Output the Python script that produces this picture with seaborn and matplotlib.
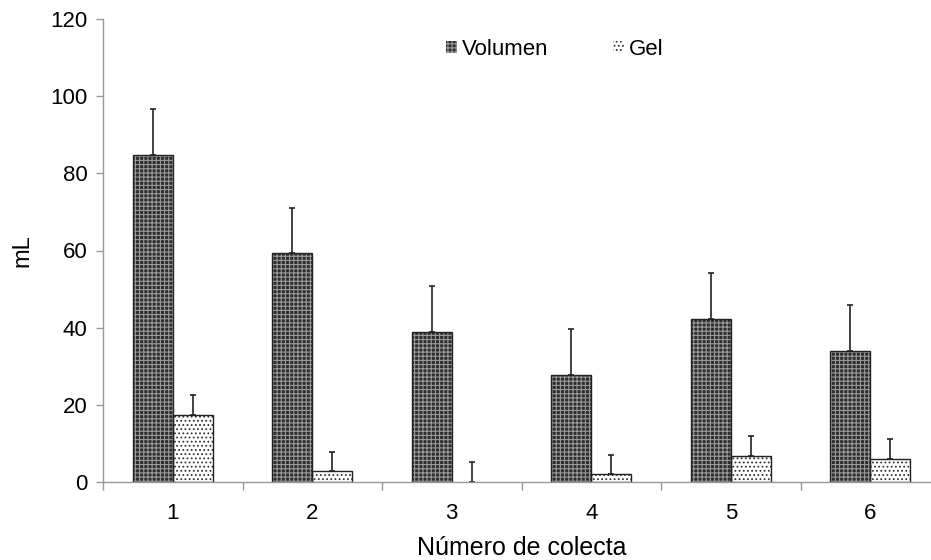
import matplotlib
matplotlib.use("Agg")
import matplotlib.pyplot as plt
import seaborn as sns
import pandas as pd
import numpy as np
from matplotlib.patches import Rectangle

categories = ["1", "2", "3", "4", "5", "6"]
volumen = [84.8, 59.4, 38.9, 27.7, 42.2, 34.0]
volumen_err = [11.9, 11.7, 11.9, 12.0, 12.0, 11.9]
gel = [17.4, 2.8, 0.0, 2.1, 6.7, 6.0]
gel_err = [5.1, 5.0, 5.3, 5.0, 5.1, 5.1]
series = ["Volumen", "Gel"]
yticks = [0, 20, 40, 60, 80, 100, 120]

df = pd.DataFrame({
    "cat": categories * 2,
    "val": volumen + gel,
    "serie": [series[0]] * 6 + [series[1]] * 6,
})

sns.set_style("white")
plt.rcParams["font.family"] = ["Liberation Sans", "DejaVu Sans"]
plt.rcParams["hatch.linewidth"] = 0.8
plt.rcParams["text.color"] = "black"
plt.rcParams["axes.labelcolor"] = "black"
plt.rcParams["xtick.labelcolor"] = "black"
plt.rcParams["ytick.labelcolor"] = "black"

fig = plt.figure(figsize=(9.31, 5.60), dpi=100)
ax = fig.add_axes([103 / 931, 78 / 560, 837 / 931, 463 / 560])

sns.barplot(data=df, x="cat", y="val", hue="serie", hue_order=series,
            order=categories, errorbar=None, width=0.572, ax=ax,
            palette=["#2e2e2e", "white"], legend=False)

styles = [dict(fc="#2e2e2e", hatch="++++", hc="#9a9a9a"),
          dict(fc="white", hatch="....", hc="#333333")]
errs = [volumen_err, gel_err]
for cont, st, err in zip(ax.containers, styles, errs):
    xs, tops = [], []
    for p in cont.patches:
        p.set_facecolor(st["fc"])
        p.set_edgecolor(st["hc"])
        p.set_hatch(st["hatch"])
        p.set_linewidth(0)
        if p.get_height() > 0:
            ax.add_patch(Rectangle(p.get_xy(), p.get_width(), p.get_height(),
                                   fill=False, ec="#222222", lw=1.0, zorder=p.get_zorder() + 0.1))
        xs.append(p.get_x() + p.get_width() / 2)
        tops.append(p.get_height())
    ax.errorbar(xs, tops, yerr=[np.zeros(len(err)), err], fmt="none",
                ecolor="#222222", elinewidth=1.2, capsize=2.5, capthick=1.2, zorder=1)

ax.set_ylim(0, 120)
ax.set_yticks(yticks)
ax.set_xlim(-0.5, 5.5)
ax.set_xticks(np.arange(-0.5, 6, 1.0), minor=True)
ax.tick_params(axis="x", which="major", length=0, labelsize=16, pad=15)
ax.tick_params(axis="x", which="minor", length=6, color="#999999", width=1, direction="out", bottom=True)
ax.tick_params(axis="y", length=5, color="#999999", width=1, direction="out", left=True, labelsize=16, pad=6)

for s in ["top", "right"]:
    ax.spines[s].set_visible(False)
for s in ["left", "bottom"]:
    ax.spines[s].set_color("#999999")
    ax.spines[s].set_linewidth(1)

ax.set_xlabel("Número de colecta", fontsize=18, labelpad=9)
ax.set_ylabel("mL", fontsize=17, labelpad=12)

handles = [Rectangle((0, 0), 1, 1, fc=st["fc"], ec=st["hc"], hatch=st["hatch"], lw=0) for st in styles]
ax.legend(handles, series, loc="center", bbox_to_anchor=(0.54, 0.935), ncol=2,
          frameon=False, fontsize=16, handlelength=0.48, handleheight=0.48,
          handletextpad=0.25, columnspacing=2.9)

fig.savefig("out.png", dpi=100)
